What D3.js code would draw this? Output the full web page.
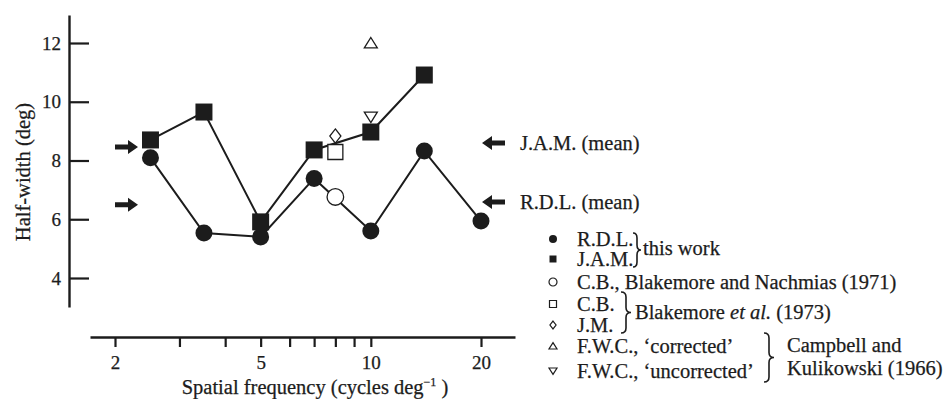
<!DOCTYPE html>
<html>
<head>
<meta charset="utf-8">
<script src="https://cdn.jsdelivr.net/npm/d3@7"></script>
<style>
    body { margin: 0; background: #fff; }
    svg text { font-family: "Liberation Serif", "DejaVu Serif", serif; fill: #1c1c1c; stroke: #1c1c1c; stroke-width: 0.25px; }
</style>
</head>
<body>
<svg id="chart" width="948" height="399"></svg>
<script>
// Spatial frequencies (cycles/deg) and half-widths (deg)
const freqs = [2.5, 3.5, 5, 7, 10, 14, 20];
const rdlWidths = [8.09, 5.53, 5.40, 7.39, 5.60, 8.32, 5.94];
const jamWidths = [8.70, 9.65, 5.91, 8.36, 8.97, 10.91];

// single points from other studies
const cbNachmias = [{ f: 8, w: 6.76 }];
const cbBlakemore = [{ f: 8, w: 8.29 }];
const jmBlakemore = [{ f: 8, w: 8.83 }];
const fwcCorrected = [{ f: 10, w: 12.0 }];
const fwcUncorrected = [{ f: 10, w: 9.48 }];

// mean arrows (left and right side of the plot)
const meanNames = ["J.A.M. (mean)", "R.D.L. (mean)"];
const meanLeft = [8.46, 6.49];
const meanRight = [8.60, 6.59];

const yTicks = [4, 6, 8, 10, 12];
const xTicks = [2, 3, 4, 5, 6, 7, 8, 9, 10, 20];
const xTickLabels = [2, 5, 10, 20];

const svg = d3.select("#chart");
const ink = "#1c1c1c";
const fs = 20.5;

// Scales
const x = d3.scaleLog().domain([2, 20]).range([115, 481]);
const y = d3.scaleLinear().domain([4, 12]).range([278, 43]);

// Axes (scales stretched so the axis lines run past the ticks)
const xAxisScale = x.copy().domain([x.invert(90), x.invert(515)]).range([90, 515]);
const yAxisScale = y.copy().domain([y.invert(307), y.invert(15)]).range([307, 15]);

const xAxis = svg.append("g")
    .attr("transform", "translate(0,337)")
    .call(d3.axisBottom(xAxisScale)
        .tickValues(xTicks)
        .tickFormat(d => xTickLabels.includes(d) ? d : "")
        .tickSizeInner(10)
        .tickSizeOuter(0)
        .tickPadding(9));
xAxis.select(".domain").attr("stroke", ink).attr("stroke-width", 2.4);
xAxis.selectAll(".tick line").attr("stroke", ink).attr("stroke-width", 2.2);
xAxis.selectAll(".tick text").attr("font-size", 19).attr("font-family", null).attr("fill", ink);

const yAxis = svg.append("g")
    .attr("transform", "translate(69,0)")
    .call(d3.axisLeft(yAxisScale)
        .tickValues(yTicks)
        .tickSizeInner(-20)
        .tickSizeOuter(0)
        .tickPadding(8));
yAxis.select(".domain").attr("stroke", ink).attr("stroke-width", 2.4);
yAxis.selectAll(".tick line").attr("stroke", ink).attr("stroke-width", 2.2);
yAxis.selectAll(".tick text").attr("font-size", 19).attr("font-family", null).attr("fill", ink);

// Axis titles
svg.append("text")
    .attr("transform", "translate(30,172) rotate(-90)")
    .attr("text-anchor", "middle")
    .attr("font-size", fs)
    .text("Half-width (deg)");

const xTitle = svg.append("text")
    .attr("x", 315).attr("y", 394)
    .attr("text-anchor", "middle")
    .attr("font-size", fs);
xTitle.append("tspan").text("Spatial frequency (cycles deg");
xTitle.append("tspan").attr("dy", -8).attr("font-size", 12).text("−1");
xTitle.append("tspan").attr("dy", 8).text(" )");

// Marker shapes
function shape(type, s) {
    switch (type) {
        case "circle": return d3.symbol(d3.symbolCircle, Math.PI * s * s)();
        case "square": return `M${-s},${-s}h${2 * s}v${2 * s}h${-2 * s}Z`;
        case "diamond": return `M0,${-s * 1.1}L${s * 0.85},0L0,${s * 1.1}L${-s * 0.85},0Z`;
        case "up": return `M0,${-s * 0.85}L${s},${s * 0.75}L${-s},${s * 0.75}Z`;
        case "down": return `M0,${s * 0.85}L${s},${-s * 0.75}L${-s},${-s * 0.75}Z`;
    }
}

// Lines
const rdl = freqs.map((f, i) => ({ f: f, w: rdlWidths[i] }));
const jam = jamWidths.map((w, i) => ({ f: freqs[i], w: w }));
const line = d3.line().x(d => x(d.f)).y(d => y(d.w));

[rdl, jam].forEach(data => {
    svg.append("path")
        .attr("d", line(data))
        .attr("fill", "none")
        .attr("stroke", ink)
        .attr("stroke-width", 2);
});

function drawPoints(data, type, size, filled) {
    svg.append("g")
        .selectAll("path")
        .data(data)
        .enter()
        .append("path")
        .attr("transform", d => `translate(${x(d.f)},${y(d.w)})`)
        .attr("d", shape(type, size))
        .attr("fill", filled ? ink : "#fff")
        .attr("stroke", ink)
        .attr("stroke-width", filled ? 0 : 1.3);
}

drawPoints(cbNachmias, "circle", 8.3, false);
drawPoints(cbBlakemore, "square", 7.5, false);
drawPoints(jmBlakemore, "diamond", 6.5, false);
drawPoints(fwcCorrected, "up", 6.5, false);
drawPoints(fwcUncorrected, "down", 6.5, false);
drawPoints(rdl, "circle", 8.5, true);
drawPoints(jam, "square", 8.5, true);

// Mean arrows
function arrowPath(x0, yc, dir) {
    // shaft 13px, head 10px, head height 14px, shaft thickness 5px
    const p = [[0, -2.5], [13, -2.5], [13, -7], [23, 0], [13, 7], [13, 2.5], [0, 2.5]];
    return "M" + p.map(([a, b]) => `${x0 + dir * a},${yc + b}`).join("L") + "Z";
}
meanLeft.forEach(v => {
    svg.append("path").attr("d", arrowPath(115, y(v), 1)).attr("fill", ink);
});
meanRight.forEach((v, i) => {
    svg.append("path").attr("d", arrowPath(505, y(v), -1)).attr("fill", ink);
    svg.append("text")
        .attr("x", 520).attr("y", y(v) + 7)
        .attr("font-size", fs)
        .text(meanNames[i]);
});

// Legend
const legendLabels = ["R.D.L.", "J.A.M.", "C.B., Blakemore and Nachmias (1971)", "C.B.", "J.M.",
    "F.W.C., \u2018corrected\u2019", "F.W.C., \u2018uncorrected\u2019"];
const legendShapes = [["circle", true], ["square", true], ["circle", false], ["square", false],
    ["diamond", false], ["up", false], ["down", false]];
const legendSizes = [4, 3.5, 4, 3.5, 3.6, 4, 4];
const legendBaselines = [246, 266, 289, 311, 332, 353, 378];

legendLabels.forEach((label, i) => {
    const [type, filled] = legendShapes[i];
    svg.append("path")
        .attr("transform", `translate(553,${legendBaselines[i] - 7})`)
        .attr("d", shape(type, legendSizes[i]))
        .attr("fill", filled ? ink : "#fff")
        .attr("stroke", ink)
        .attr("stroke-width", filled ? 0 : 1.2);
    svg.append("text")
        .attr("x", 577).attr("y", legendBaselines[i])
        .attr("font-size", fs)
        .text(label);
});

function bracePath(x0, y1, y2, w) {
    const ym = (y1 + y2) / 2, h = w / 2, q = 5;
    return `M${x0},${y1}Q${x0 + h},${y1} ${x0 + h},${y1 + q}L${x0 + h},${ym - q}Q${x0 + h},${ym} ${x0 + w},${ym}` +
        `Q${x0 + h},${ym} ${x0 + h},${ym + q}L${x0 + h},${y2 - q}Q${x0 + h},${y2} ${x0},${y2}`;
}
[[633, 233, 267, 8], [621, 292, 333, 10], [764, 333, 382, 10]].forEach(([bx, y1, y2, w]) => {
    svg.append("path")
        .attr("d", bracePath(bx, y1, y2, w))
        .attr("fill", "none")
        .attr("stroke", ink)
        .attr("stroke-width", 1.6);
});

svg.append("text").attr("x", 643).attr("y", 255).attr("font-size", fs).text("this work");
const bl = svg.append("text").attr("x", 635).attr("y", 319).attr("font-size", fs);
bl.append("tspan").text("Blakemore ");
bl.append("tspan").attr("font-style", "italic").text("et al.");
bl.append("tspan").text(" (1973)");
svg.append("text").attr("x", 787).attr("y", 352).attr("font-size", fs).text("Campbell and");
svg.append("text").attr("x", 787).attr("y", 375).attr("font-size", fs).text("Kulikowski (1966)");
</script>
</body>
</html>
